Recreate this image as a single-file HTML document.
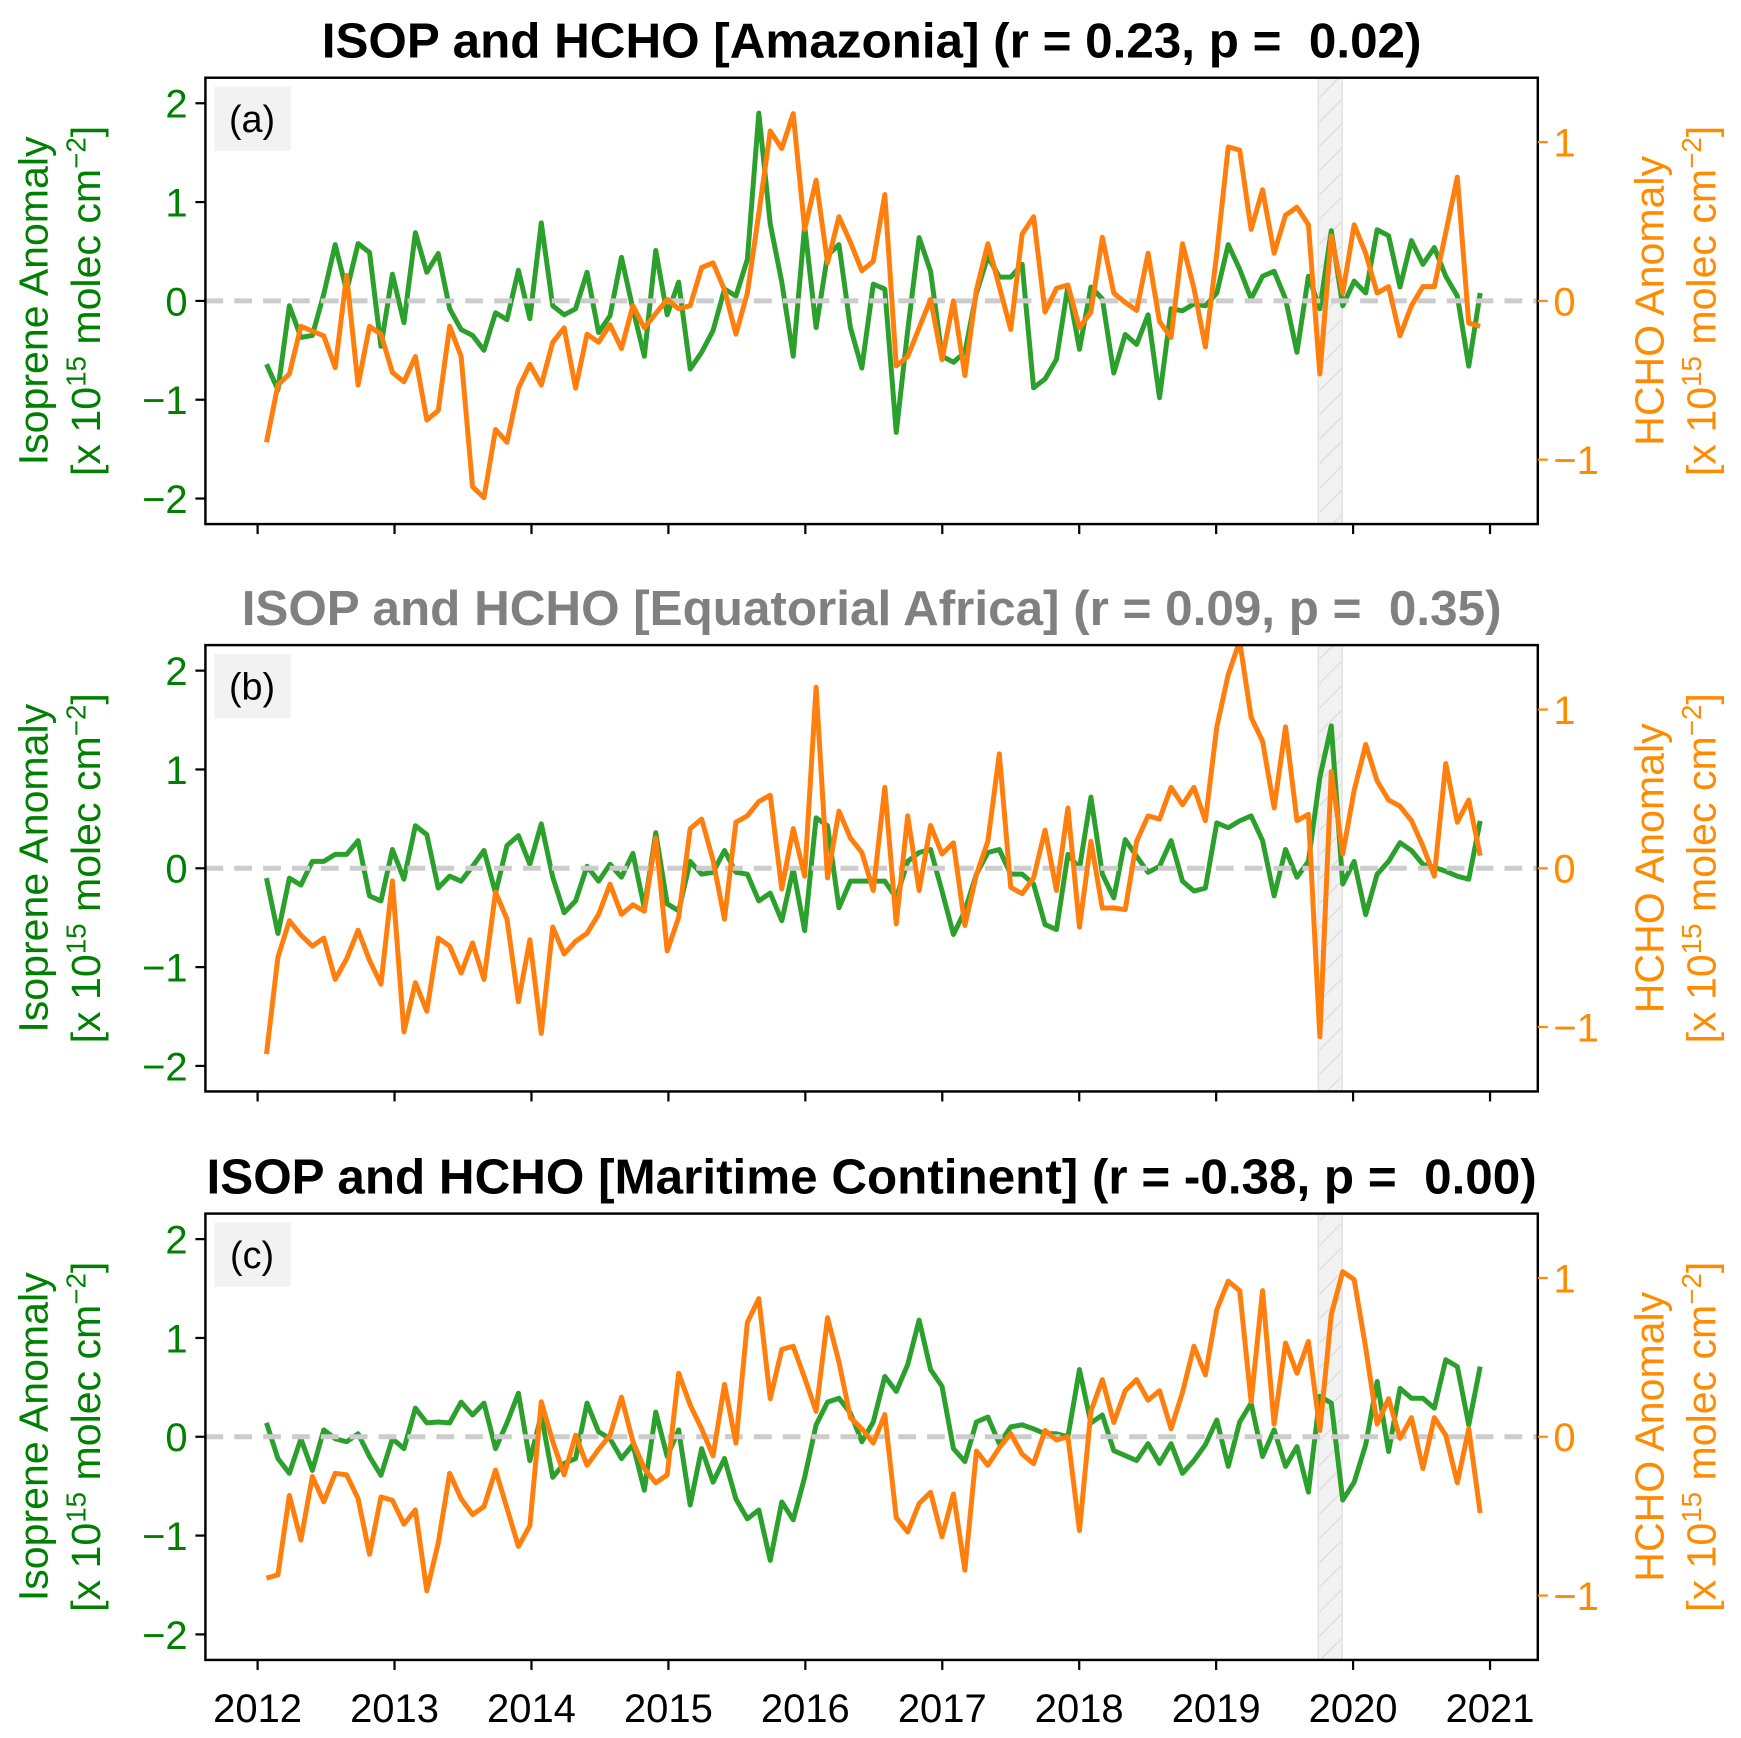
<!DOCTYPE html>
<html>
<head>
<meta charset="utf-8">
<style>
html,body{margin:0;padding:0;background:#fff;}
svg{display:block;}
text{font-family:"Liberation Sans",Arial,sans-serif;white-space:pre;}
</style>
</head>
<body>
<svg id="fig" xmlns="http://www.w3.org/2000/svg" width="1741" height="1738" viewBox="0 0 1568 1565.3" preserveAspectRatio="none">
<defs>
<pattern id="hatch" patternUnits="userSpaceOnUse" width="22" height="22">
<rect width="22" height="22" fill="#f2f2f2"/>
<line x1="0" y1="22" x2="22" y2="0" stroke="#e0e0e0" stroke-width="1.5"/>
</pattern>
</defs>
</svg>
<script>
const panelTitles = ["ISOP and HCHO [Amazonia] (r = 0.23, p =  0.02)", "ISOP and HCHO [Equatorial Africa] (r = 0.09, p =  0.35)", "ISOP and HCHO [Maritime Continent] (r = -0.38, p =  0.00)"];
const panelLetters = ["(a)", "(b)", "(c)"];
const titleColors = ["#000000", "#808080", "#000000"];
const leftTicks = [2, 1, 0, -1, -2];
const rightTicks = [1, 0, -1];
const yearTicks = [2012, 2013, 2014, 2015, 2016, 2017, 2018, 2019, 2020, 2021];
const bandRange = [2019.745, 2019.92];

const isopA = [-0.64,-0.9,-0.05,-0.37,-0.35,0.07,0.57,0.1,0.58,0.49,-0.46,0.27,-0.22,0.69,0.29,0.48,-0.08,-0.29,-0.35,-0.5,-0.12,-0.19,0.31,-0.18,0.79,-0.05,-0.14,-0.08,0.29,-0.32,-0.15,0.44,-0.08,-0.56,0.51,-0.14,0.19,-0.69,-0.52,-0.3,0.12,0.05,0.42,1.9,0.78,0.19,-0.56,0.76,-0.27,0.46,0.57,-0.27,-0.68,0.17,0.12,-1.33,-0.3,0.64,0.3,-0.56,-0.62,-0.52,0.08,0.45,0.24,0.24,0.37,-0.88,-0.79,-0.59,0.15,-0.49,0.14,0.02,-0.73,-0.34,-0.44,-0.14,-0.98,-0.08,-0.1,-0.03,-0.05,0.08,0.57,0.32,0.02,0.25,0.3,0.02,-0.52,0.25,-0.08,0.71,-0.05,0.2,0.08,0.72,0.66,0.14,0.61,0.37,0.54,0.25,0.05,-0.66,0.08];
const hchoA = [-0.89,-0.53,-0.46,-0.16,-0.19,-0.22,-0.42,0.16,-0.53,-0.16,-0.21,-0.45,-0.51,-0.35,-0.75,-0.69,-0.16,-0.35,-1.17,-1.24,-0.81,-0.89,-0.55,-0.4,-0.53,-0.26,-0.17,-0.55,-0.21,-0.26,-0.15,-0.3,-0.03,-0.17,-0.08,0.01,-0.05,-0.03,0.21,0.24,0.07,-0.21,0.05,0.55,1.07,0.96,1.18,0.45,0.76,0.24,0.53,0.37,0.19,0.25,0.67,-0.41,-0.35,-0.17,0.01,-0.37,0,-0.47,0.07,0.36,0.09,-0.18,0.42,0.53,-0.07,0.08,0.1,-0.17,-0.07,0.4,0.05,-0.01,-0.06,0.3,-0.13,-0.23,0.36,0.08,-0.29,0.3,0.97,0.95,0.45,0.7,0.3,0.54,0.59,0.48,-0.46,0.41,0.05,0.48,0.3,0.05,0.09,-0.22,-0.03,0.09,0.09,0.43,0.78,-0.14,-0.16];
const isopB = [-0.1,-0.66,-0.1,-0.17,0.07,0.07,0.14,0.14,0.28,-0.28,-0.33,0.19,-0.11,0.43,0.34,-0.2,-0.08,-0.13,0.02,0.18,-0.25,0.23,0.33,0.04,0.45,-0.09,-0.45,-0.33,0.02,-0.13,0.04,-0.09,0.15,-0.4,0.36,-0.36,-0.43,0.07,-0.06,-0.04,0.18,-0.04,-0.06,-0.33,-0.25,-0.53,-0.01,-0.63,0.51,0.43,-0.4,-0.13,-0.13,-0.13,-0.13,-0.3,0.07,0.16,0.19,-0.23,-0.67,-0.43,-0.06,0.16,0.19,-0.06,-0.06,-0.16,-0.57,-0.62,0.14,0,0.72,-0.06,-0.3,0.29,0.12,-0.04,0.02,0.28,-0.13,-0.23,-0.2,0.46,0.41,0.48,0.53,0.28,-0.28,0.19,-0.09,0.07,0.92,1.44,-0.16,0.07,-0.47,-0.06,0.07,0.26,0.18,0.04,0.01,-0.03,-0.08,-0.11,0.48];
const hchoB = [-1.17,-0.56,-0.33,-0.42,-0.49,-0.44,-0.7,-0.57,-0.39,-0.58,-0.73,-0.08,-1.03,-0.72,-0.9,-0.44,-0.49,-0.66,-0.47,-0.7,-0.15,-0.32,-0.84,-0.45,-1.04,-0.37,-0.54,-0.46,-0.41,-0.29,-0.1,-0.29,-0.23,-0.27,0.19,-0.52,-0.31,0.25,0.31,0.05,-0.32,0.29,0.33,0.42,0.46,-0.13,0.25,-0.05,1.14,-0.06,0.36,0.19,0.1,-0.14,0.51,-0.35,0.33,-0.14,0.27,0.09,0.16,-0.36,-0.04,0.17,0.72,-0.12,-0.16,-0.06,0.24,-0.14,0.38,-0.37,0.17,-0.25,-0.25,-0.26,0.17,0.33,0.31,0.51,0.4,0.51,0.3,0.89,1.22,1.43,0.95,0.8,0.38,0.89,0.3,0.34,-1.06,0.61,0.09,0.49,0.78,0.55,0.43,0.39,0.3,0.14,-0.05,0.66,0.29,0.43,0.08];
const isopC = [0.14,-0.22,-0.37,-0.02,-0.34,0.07,-0.02,-0.05,0.03,-0.2,-0.39,-0.02,-0.12,0.29,0.14,0.15,0.14,0.35,0.22,0.34,-0.12,0.14,0.44,-0.24,0.22,-0.41,-0.27,-0.22,0.34,0.05,-0.02,-0.22,-0.08,-0.54,0.25,-0.2,0.07,-0.69,-0.12,-0.46,-0.22,-0.63,-0.83,-0.74,-1.25,-0.66,-0.84,-0.41,0.12,0.35,0.39,0.24,-0.05,0.15,0.61,0.46,0.73,1.18,0.68,0.51,-0.12,-0.25,0.15,0.2,-0.07,0.1,0.12,0.08,0.03,0.03,0,0.68,0.14,0.22,-0.14,-0.19,-0.24,-0.07,-0.27,-0.07,-0.37,-0.24,-0.08,0.17,-0.3,0.15,0.34,-0.2,0.07,-0.3,-0.1,-0.56,0.41,0.34,-0.64,-0.46,-0.08,0.56,-0.15,0.49,0.39,0.39,0.29,0.78,0.71,0.12,0.71];
const hchoC = [-0.89,-0.87,-0.37,-0.65,-0.25,-0.41,-0.23,-0.24,-0.39,-0.74,-0.38,-0.4,-0.55,-0.46,-0.97,-0.67,-0.23,-0.39,-0.49,-0.44,-0.21,-0.45,-0.69,-0.56,0.22,-0.03,-0.24,0.01,-0.18,-0.08,0.01,0.25,-0.03,-0.2,-0.29,-0.24,0.4,0.2,0.05,-0.12,0.33,-0.04,0.72,0.87,0.24,0.55,0.57,0.37,0.16,0.75,0.47,0.12,0.05,-0.04,0.14,-0.51,-0.6,-0.42,-0.35,-0.63,-0.36,-0.84,-0.09,-0.18,-0.07,0.02,-0.11,-0.17,0.04,-0.02,0,-0.59,0.16,0.36,0.09,0.29,0.36,0.23,0.29,0.05,0.28,0.57,0.39,0.8,0.98,0.92,0.22,0.92,0.08,0.59,0.4,0.6,0.04,0.77,1.04,0.99,0.56,0.08,0.24,-0.01,0.12,-0.2,0.12,0.01,-0.29,0.05,-0.48];

const isopSeries = [isopA, isopB, isopC];
const hchoSeries = [hchoA, hchoB, hchoC];

const NS = "http://www.w3.org/2000/svg";
const svg = document.getElementById("fig");
const GREEN = "#2ca02c", ORANGE = "#ff7f0e";
const LGREEN = "#008000", LORANGE = "#ff8c00";
const axL = 185, axR = 1385, panelTop = [70, 581, 1093], axH = 402;
const UNITS = '[x 10<tspan dy="-13" font-size="25">15</tspan><tspan dy="13"> molec cm</tspan><tspan dy="-13" font-size="25">\u22122</tspan><tspan dy="13">]</tspan>';

function mk(tag, attrs, parent) {
  const el = document.createElementNS(NS, tag);
  for (const k in attrs) el.setAttribute(k, attrs[k]);
  (parent || svg).appendChild(el);
  return el;
}
function xScale(year) { return 232 + (year - 2012) * 123.33; }
function monthYear(i) { return 2012.065 + i / 11.96; }

panelTitles.forEach((title, p) => {
  const top = panelTop[p], bot = top + axH, zeroY = top + 201;
  const yL = v => zeroY - v * 89;
  const yR = v => zeroY - v * 143;
  const g = mk("g", {});
  
  

  const clipId = "clip" + p;
  const cp = mk("clipPath", {id: clipId}, g);
  mk("rect", {x: axL, y: top, width: axR - axL, height: axH}, cp);

  const t = mk("text", {x: 785, y: top - 18, "text-anchor": "middle", "font-size": 44.5, "font-weight": "bold", fill: titleColors[p], "xml:space": "preserve"}, g);
  t.textContent = title;
  
  

  const band = mk("rect", {x: xScale(bandRange[0]), y: top, width: xScale(bandRange[1]) - xScale(bandRange[0]), height: axH, fill: "url(#hatch)", stroke: "#e4e4e4", "stroke-width": 1.5}, g);
  
  

  const lb = mk("rect", {x: 193, y: top + 8, width: 69, height: 58, fill: "#f2f2f2"}, g);
  
  
  const lt = mk("text", {x: 227, y: top + 49, "text-anchor": "middle", "font-size": 34, fill: "#000"}, g);
  lt.textContent = panelLetters[p];
  
  

  const isop = isopSeries[p], hcho = hchoSeries[p];
  const gp = mk("polyline", {points: isop.map((v, i) => xScale(monthYear(i)).toFixed(1) + "," + yL(v).toFixed(1)).join(" "), fill: "none", stroke: GREEN, "stroke-width": 4.5, "stroke-linejoin": "round", "clip-path": "url(#" + clipId + ")"}, g);
  
  

  const zl = mk("line", {x1: axL, x2: axR, y1: yL(0), y2: yL(0), stroke: "#cccccc", "stroke-width": 4.5, "stroke-dasharray": "16 10"}, g);
  
  

  const op = mk("polyline", {points: hcho.map((v, i) => xScale(monthYear(i)).toFixed(1) + "," + yR(v).toFixed(1)).join(" "), fill: "none", stroke: ORANGE, "stroke-width": 4.5, "stroke-linejoin": "round", "clip-path": "url(#" + clipId + ")"}, g);
  
  

  const fr = mk("rect", {x: axL, y: top, width: axR - axL, height: axH, fill: "none", stroke: "#000", "stroke-width": 2.2}, g);
  
  

  leftTicks.forEach(v => {
    mk("line", {x1: axL - 9, x2: axL, y1: yL(v), y2: yL(v), stroke: "#000", "stroke-width": 2}, g);
    const tx = mk("text", {x: axL - 16, y: yL(v) + 13, "text-anchor": "end", "font-size": 36, fill: LGREEN}, g);
    tx.textContent = v < 0 ? "\u2212" + Math.abs(v) : String(v);
    
    
  });
  rightTicks.forEach(v => {
    mk("line", {x1: axR, x2: axR + 9, y1: yR(v), y2: yR(v), stroke: LORANGE, "stroke-width": 2}, g);
    const tx = mk("text", {x: axR + 14, y: yR(v) + 13, "text-anchor": "start", "font-size": 36, fill: LORANGE}, g);
    tx.textContent = v < 0 ? "\u2212" + Math.abs(v) : String(v);
    
    
  });
  yearTicks.forEach(yr => {
    mk("line", {x1: xScale(yr), x2: xScale(yr), y1: bot, y2: bot + 9, stroke: "#000", "stroke-width": 2}, g);
    if (p === 2) {
      const tx = mk("text", {x: xScale(yr), y: bot + 56, "text-anchor": "middle", "font-size": 36, fill: "#000"}, g);
      tx.textContent = String(yr);
      
      
    }
  });

  const cy = top + axH / 2;
  const yl = mk("text", {transform: "translate(43," + cy + ") rotate(-90)", "text-anchor": "middle", "font-size": 37, fill: LGREEN}, g);
  yl.textContent = "Isoprene Anomaly";
  
  
  const yl2 = mk("text", {transform: "translate(90," + cy + ") rotate(-90)", "text-anchor": "middle", "font-size": 37, fill: LGREEN}, g);
  yl2.innerHTML = UNITS;
  
  

  const yr1 = mk("text", {transform: "translate(1498," + cy + ") rotate(-90)", "text-anchor": "middle", "font-size": 37, fill: LORANGE}, g);
  yr1.textContent = "HCHO Anomaly";
  
  
  const yr2 = mk("text", {transform: "translate(1545," + cy + ") rotate(-90)", "text-anchor": "middle", "font-size": 37, fill: LORANGE}, g);
  yr2.innerHTML = UNITS;
  
  
});
</script>
</body>
</html>
